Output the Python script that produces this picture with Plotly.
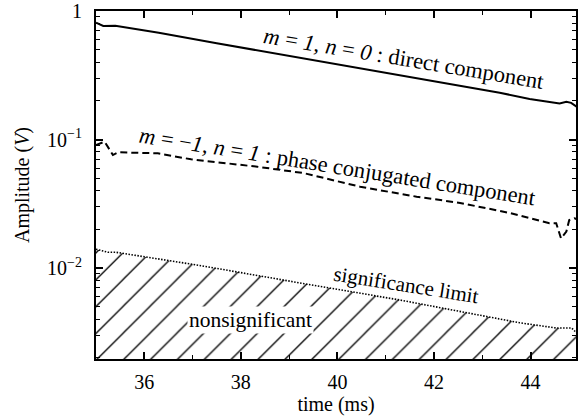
import plotly.graph_objects as go

# ---- data ----
direct_t = [35.0, 35.15, 35.4, 36.3, 37.5, 38.5, 39.5, 40.5, 41.3, 41.92, 42.95, 43.36, 43.98, 44.6, 44.74, 44.84, 45.0]
direct_v = [0.81, 0.764, 0.769, 0.678, 0.561, 0.482, 0.414, 0.356, 0.318, 0.290, 0.246, 0.231, 0.207, 0.191, 0.197, 0.193, 0.175]

phase_t = [35.0, 35.18, 35.35, 35.46, 36.28, 36.97, 38.34, 39.30, 40.47, 41.64, 42.54, 43.57, 44.39, 44.53, 44.63, 44.74, 44.80, 44.91, 45.0]
phase_v = [0.0906, 0.0961, 0.0757, 0.0795, 0.0781, 0.0701, 0.0614, 0.0548, 0.0429, 0.0359, 0.0321, 0.0268, 0.0223, 0.0223, 0.0170, 0.0192, 0.0236, 0.0244, 0.0236]

sig_t = [35.0, 35.25, 35.42, 37.18, 39.03, 41.30, 43.77, 44.54, 44.85, 45.0]
sig_v = [0.0140, 0.01325, 0.01325, 0.01042, 0.00788, 0.00563, 0.00375, 0.00341, 0.00341, 0.00301]

floor_t = [35.0, 45.0]
floor_v = [0.001, 0.001]

x_ticks = [36, 38, 40, 42, 44]
y_ticks = [0.01, 0.1, 1]
y_ticktext = ["10<sup>\u22122</sup>", "10<sup>\u22121</sup>", "1"]
y_minor = [m * 10.0 ** e for e in (-3, -2, -1) for m in range(2, 10)]

FONT = "Liberation Serif"

fig = go.Figure()
fig.add_trace(go.Scatter(x=floor_t, y=floor_v, mode="lines", line=dict(width=0),
                         hoverinfo="skip", showlegend=False))
fig.add_trace(go.Scatter(x=sig_t, y=sig_v, mode="lines", fill="tonexty",
                         fillcolor="white",
                         fillpattern=dict(shape="/", size=19, solidity=0.07, fgopacity=1,
                                          fgcolor="black", bgcolor="white"),
                         line=dict(color="black", width=1.6, dash="1.5px,1.5px"),
                         showlegend=False))
fig.add_trace(go.Scatter(x=phase_t, y=phase_v, mode="lines",
                         line=dict(color="black", width=2, dash="7px,4px"),
                         showlegend=False))
fig.add_trace(go.Scatter(x=direct_t, y=direct_v, mode="lines",
                         line=dict(color="black", width=2), showlegend=False))

big_font = dict(family=FONT, size=22.5, color="black")
ann_font = dict(family=FONT, size=21, color="black")
fig.add_annotation(x=41.38, y=-0.366, xref="x", yref="y", showarrow=False, textangle=9.4,
                   text="<i>m</i> = <i>1</i>, <i>n</i> = <i>0</i> : direct component", font=big_font)
fig.add_annotation(x=40.01, y=-1.21, xref="x", yref="y", showarrow=False, textangle=9.1,
                   text="<i>m</i> = \u2212<i>1</i>, <i>n</i> = <i>1</i> : phase conjugated component", font=big_font)
fig.add_annotation(x=41.43, y=-2.13, xref="x", yref="y", showarrow=False, textangle=9.0,
                   text="significance limit", font=ann_font, bgcolor="white")
fig.add_annotation(x=38.19, y=-2.405, xref="x", yref="y", showarrow=False,
                   text="nonsignificant", font=dict(family=FONT, size=21.5, color="black"), bgcolor="white")

fig.update_layout(
    width=578, height=416,
    margin=dict(l=96, r=0, t=11, b=57),
    paper_bgcolor="white", plot_bgcolor="white",
    font=dict(family=FONT, size=20, color="black"),
    showlegend=False,
)
fig.update_xaxes(
    range=[35.0, 44.94], tickvals=x_ticks, ticks="inside", ticklen=7, tickwidth=1.5,
    tickcolor="black", showline=True, linewidth=2, linecolor="black", mirror="ticks",
    showgrid=False, zeroline=False, ticklabelstandoff=4,
    minor=dict(dtick=1, tick0=35, ticks="inside", ticklen=4, tickwidth=1.2, tickcolor="black", showgrid=False),
    title=dict(text="time (ms)", standoff=4, font=dict(family=FONT, size=20)),
    tickfont=dict(family=FONT, size=20),
)
fig.update_yaxes(
    type="log", range=[-2.708, 0.0], tickvals=y_ticks, ticktext=y_ticktext,
    ticks="inside", ticklen=7, tickwidth=1.5, tickcolor="black",
    showline=True, linewidth=2, linecolor="black", mirror="ticks",
    showgrid=False, zeroline=False, ticklabelstandoff=8,
    minor=dict(tickvals=y_minor, ticks="inside", ticklen=4, tickwidth=1.2, tickcolor="black", showgrid=False),
    title=dict(text="Amplitude (<i>V</i>)", standoff=12, font=dict(family=FONT, size=20)),
    tickfont=dict(family=FONT, size=20),
)

fig.write_html("out.html")
